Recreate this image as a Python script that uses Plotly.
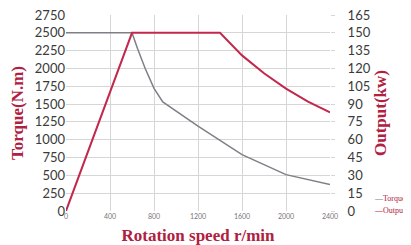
import plotly.graph_objects as go

# Torque curve (N.m) vs rotation speed (r/min)
torque_speed = [0, 600, 650, 720, 800, 880, 1200, 1600, 2000, 2400]
torque_vals = [2500, 2500, 2280, 2000, 1720, 1530, 1190, 790, 510, 370]

# Output power (kW) vs rotation speed (r/min)
output_speed = [0, 600, 1400, 1600, 1800, 2000, 2200, 2400]
output_vals = [0, 150, 150, 131, 116, 103, 92, 83]

x_ticks = [0, 400, 800, 1200, 1600, 2000, 2400]
torque_ticks = list(range(0, 2751, 250))
output_ticks = list(range(0, 166, 15))

TITLE_RED = "#b0203f"
GRID = "#d6d6d6"
SERIF = "Liberation Serif, Times New Roman, serif"
SANS = "Lato, Open Sans, sans-serif"

fig = go.Figure()
fig.add_trace(go.Scatter(x=torque_speed, y=torque_vals, mode="lines",
                         name="Torque", line=dict(color="#7f7f86", width=1.5),
                         yaxis="y"))
fig.add_trace(go.Scatter(x=output_speed, y=output_vals, mode="lines",
                         name="Output", line=dict(color="#c2284c", width=2),
                         yaxis="y2"))

fig.update_layout(
    width=411, height=245,
    margin=dict(l=58, r=89, t=7, b=42),
    paper_bgcolor="white", plot_bgcolor="white",
    showlegend=False,
    xaxis=dict(range=[0, 2400], tickvals=x_ticks, ticktext=[str(v) for v in x_ticks],
               automargin=False, ticklabeloverflow="allow",
               showgrid=True, gridcolor=GRID, gridwidth=1, zeroline=False,
               showline=False, ticks="",
               tickfont=dict(family=SANS, size=7, color="#777777"),
               title=dict(text="<b>Rotation speed r/min</b>", standoff=10,
                          font=dict(family=SERIF, size=17, color=TITLE_RED))),
    yaxis=dict(range=[0, 2750], tickvals=torque_ticks, automargin=False,
               ticklabeloverflow="allow",
               showgrid=True, gridcolor=GRID, gridwidth=1, zeroline=False,
               showline=False, ticks="",
               tickfont=dict(family=SANS, size=13, color="#3a3a3a"),
               title=dict(text="<b>Torque(N.m)</b>", standoff=8,
                          font=dict(family=SERIF, size=17, color=TITLE_RED))),
    yaxis2=dict(range=[0, 165], tickvals=output_ticks, overlaying="y", side="right",
                automargin=False, ticklabeloverflow="allow",
                showgrid=False, zeroline=False, showline=False,
                ticks="outside", ticklen=4, tickcolor=GRID,
                ticklabelstandoff=10,
                tickfont=dict(family=SANS, size=13, color="#3a3a3a"),
                title=dict(text="<b>Output(kw)</b>", standoff=3,
                           font=dict(family=SERIF, size=17, color=TITLE_RED))),
)

fig.add_annotation(xref="paper", yref="paper", x=1.158, y=(211 - 198) / 196,
                   xanchor="left", yanchor="middle", showarrow=False,
                   text="<span style='color:#7f7f86'>—</span>Torque",
                   font=dict(family=SERIF, size=8, color=TITLE_RED))
fig.add_annotation(xref="paper", yref="paper", x=1.158, y=(211 - 210) / 196,
                   xanchor="left", yanchor="middle", showarrow=False,
                   text="<span style='color:#c2284c'>—</span>Output",
                   font=dict(family=SERIF, size=8, color=TITLE_RED))

fig.write_html("out.html")
